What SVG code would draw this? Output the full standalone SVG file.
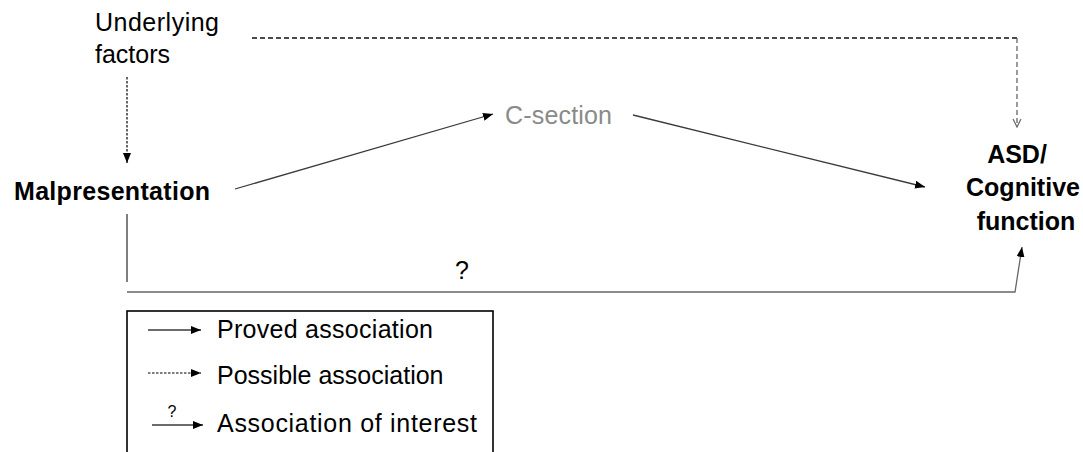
<svg xmlns="http://www.w3.org/2000/svg" width="1083" height="452" viewBox="0 0 1083 452">
  <style>
    .t { font-family: "Liberation Sans", Arial, sans-serif; font-size: 25px; fill: #000; }
    .b { font-weight: bold; }
    .grey { fill: #8a8a8a; }
    .ln { fill: none; stroke: #3a3a3a; stroke-width: 1.3; }
    .dash { fill: none; stroke: #111; stroke-width: 1.3; stroke-dasharray: 5 3; }
    .dot { fill: none; stroke: #000; stroke-width: 1.2; stroke-dasharray: 2.5 1.5; }
  </style>
  <defs>
    <marker id="arr" viewBox="0 0 10 8" refX="10" refY="4" markerWidth="10" markerHeight="8" markerUnits="userSpaceOnUse" orient="auto">
      <path d="M0,0 L10,4 L0,8 Z" fill="#000"/>
    </marker>
    <marker id="open" viewBox="0 0 10 10" refX="9" refY="5" markerWidth="10" markerHeight="10" markerUnits="userSpaceOnUse" orient="auto">
      <path d="M1,1 L9,5 L1,9" fill="none" stroke="#666" stroke-width="1.2"/>
    </marker>
  </defs>

  <!-- nodes -->
  <g id="underlying">
    <text class="t" x="95" y="31" textLength="124">Underlying</text>
    <text class="t" x="95" y="63">factors</text>
  </g>
  <g id="malpresentation">
    <text class="t b" x="14" y="200" textLength="196">Malpresentation</text>
  </g>
  <g id="csection">
    <text class="t grey" x="505" y="124" textLength="107">C-section</text>
  </g>
  <g id="outcome">
    <text class="t b" x="1017" y="163" text-anchor="middle">ASD/</text>
    <text class="t b" x="1023" y="196" text-anchor="middle">Cognitive</text>
    <text class="t b" x="1026" y="230" text-anchor="middle">function</text>
  </g>

  <!-- connectors -->
  <g id="connectors">
    <path class="dot" d="M127,77 V163" marker-end="url(#arr)"/>
    <path class="dash" d="M252,38 H1017"/>
    <path d="M1017,38 V127" fill="none" stroke="#666" stroke-width="1.3" stroke-dasharray="5 3" marker-end="url(#open)"/>
    <path class="ln" d="M235,189 L493,114" marker-end="url(#arr)"/>
    <path class="ln" d="M633,115 L925,187" marker-end="url(#arr)"/>
    <path class="ln" d="M127,214 V282"/>
    <path d="M127,292 H1015 L1022,247" fill="none" stroke="#666" stroke-width="1.3" marker-end="url(#arr)"/>
    <text class="t" x="462" y="279" text-anchor="middle">?</text>
  </g>

  <!-- legend -->
  <g id="legend">
    <rect x="127" y="311" width="366" height="160" fill="none" stroke="#000" stroke-width="1.6"/>
    <path class="ln" d="M148,330 H201" stroke="#000" marker-end="url(#arr)"/>
    <text class="t" x="217" y="338" textLength="216">Proved association</text>
    <path class="dot" d="M148,373 H201" marker-end="url(#arr)"/>
    <text class="t" x="217" y="384">Possible association</text>
    <text class="t" x="172" y="417" text-anchor="middle" style="font-size:16px">?</text>
    <path class="ln" d="M152,425 H203" stroke="#000" marker-end="url(#arr)"/>
    <text class="t" x="217" y="432" textLength="260">Association of interest</text>
  </g>
</svg>
